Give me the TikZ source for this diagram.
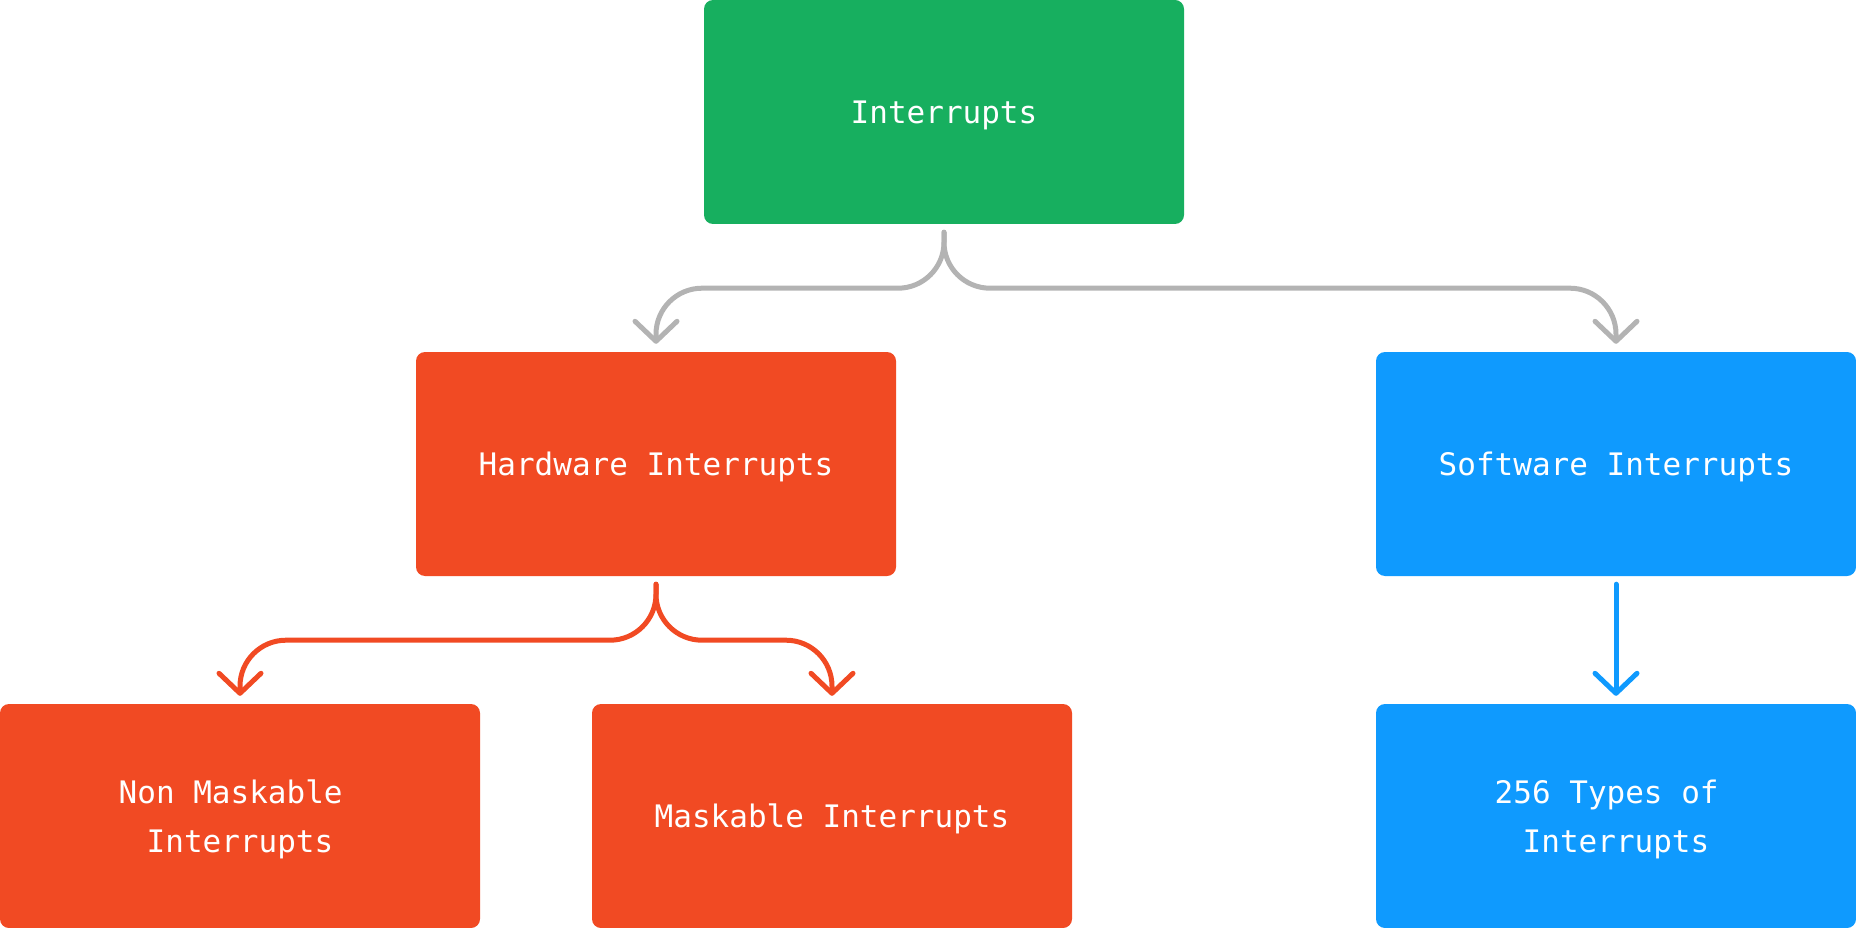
\documentclass[tikz,border=0pt]{standalone}
\usepackage{fontspec}
\newfontfamily\boxfont{DejaVu Sans Mono}
\usetikzlibrary{arrows.meta}
\definecolor{cgreen}{HTML}{17AF5F}
\definecolor{cred}{HTML}{F14A23}
\definecolor{cblue}{HTML}{0F9AFE}
\definecolor{cgrey}{HTML}{B3B3B3}
\tikzset{
  box/.style={rounded corners=9pt, minimum width=480pt, minimum height=224pt, inner sep=0pt,
    text depth=0pt, text=white, font=\boxfont\fontsize{31}{49}\selectfont, align=center},
  conn/.style={line width=5pt, line cap=round, line join=round, rounded corners=46pt,
    -{Straight Barb[length=20pt,width=42pt,round]}},
}
\begin{document}
\begin{tikzpicture}[x=1pt,y=-1pt]
\useasboundingbox (0,0) rectangle (1856,928);
\node[box, fill=cgreen] (int) at (944,112) {Interrupts};
\node[box, fill=cred] (hw) at (656,464) {Hardware Interrupts};
\node[box, fill=cblue] (sw) at (1616,464) {Software Interrupts};
\node[box, fill=cred] (nm) at (240,816) {Non Maskable\hphantom{x}\\Interrupts};
\node[box, fill=cred] (mk) at (832,816) {Maskable Interrupts};
\node[box, fill=cblue] (ty) at (1616,816) {256 Types of\hphantom{x}\\Interrupts};
\draw[conn, cgrey] ([yshift=-8pt]int.south) -- ++(0,56) -| ([yshift=8pt]hw.north);
\draw[conn, cgrey] ([yshift=-8pt]int.south) -- ++(0,56) -| ([yshift=8pt]sw.north);
\draw[conn, cred] ([yshift=-8pt]hw.south) -- ++(0,56) -| ([yshift=8pt]nm.north);
\draw[conn, cred] ([yshift=-8pt]hw.south) -- ++(0,56) -| ([yshift=8pt]mk.north);
\draw[conn, cblue] ([yshift=-8pt]sw.south) -- ([yshift=8pt]ty.north);
\end{tikzpicture}
\end{document}
